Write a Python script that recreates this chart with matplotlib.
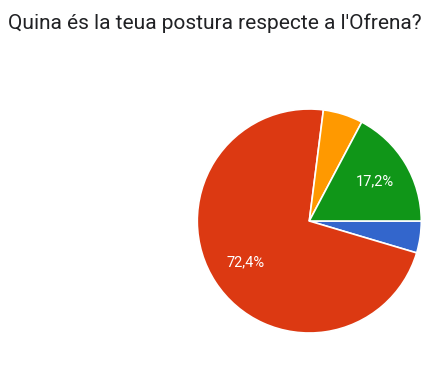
import matplotlib.pyplot as plt

plt.rcParams['font.family'] = ['Roboto', 'DejaVu Sans']

labels = ['Opció 1', 'Opció 2', 'Opció 3', 'Opció 4']
values = [4, 63, 5, 15]
colors = ['#3366cc', '#dc3912', '#ff9900', '#109618']
title = "Quina és la teua postura respecte a l'Ofrena?"


def pct(p):
    # Google amaga les etiquetes de les porcions petites
    if p < 10:
        return ''
    return ('%.1f%%' % p).replace('.', ',')


fig = plt.figure(figsize=(4.38, 3.66), dpi=100)
fig.patch.set_facecolor('white')

cx, cy, r = 309.3, 221, 112
W, H = 438, 366
ax = fig.add_axes([(cx - r) / W, (H - cy - r) / H, 2 * r / W, 2 * r / H])

wedges, texts, autotexts = ax.pie(values, colors=colors, startangle=0, counterclock=False,
                                  autopct=pct, pctdistance=0.68, radius=1,
                                  wedgeprops=dict(edgecolor='white', linewidth=1.2),
                                  textprops=dict(color='white', fontsize=10.5))
ax.set_xlim(-1, 1)
ax.set_ylim(-1, 1)
ax.set_aspect('equal')
ax.axis('off')

fig.text(8 / W, 1 - 29 / H, title, fontsize=15, color='#202124', ha='left', va='baseline')

fig.savefig('out.png', dpi=100, facecolor='white')
